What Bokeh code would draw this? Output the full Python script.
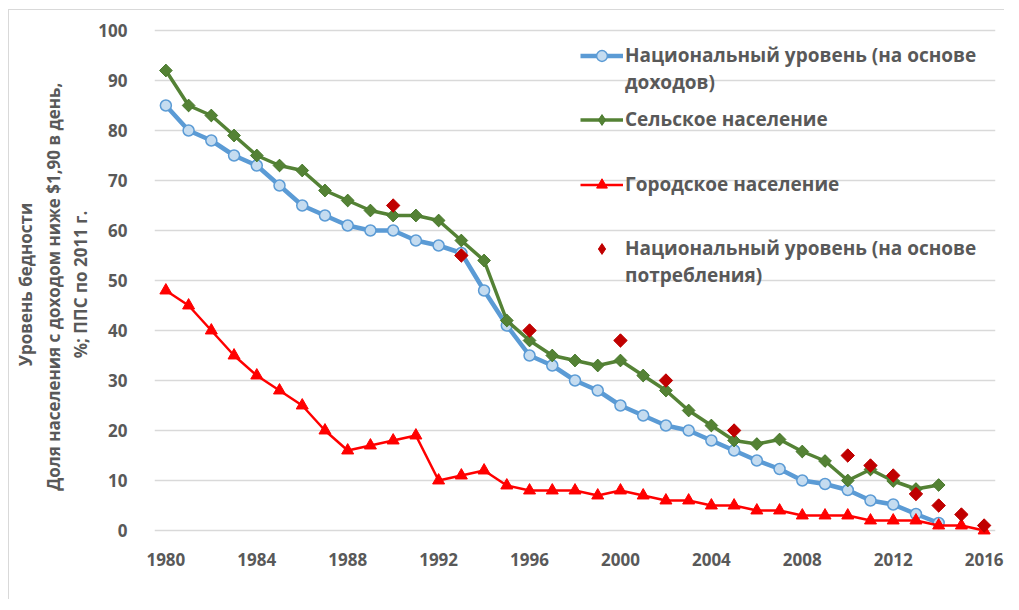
import math
from bokeh.plotting import figure
from bokeh.models import Range1d, FixedTicker, Legend, LegendItem
from bokeh.embed import file_html
from bokeh.resources import INLINE

years = list(range(1980, 2017))
years_2014 = list(range(1980, 2015))

national_income = [85, 80, 78, 75, 73, 69, 65, 63, 61, 60, 60, 58, 57, 55.5, 48, 41, 35, 33, 30,
                   28, 25, 23, 21, 20, 18, 16, 14, 12.3, 10, 9.3, 8.1, 6, 5.2, 3.3, 1.5]
rural = [92, 85, 83, 79, 75, 73, 72, 68, 66, 64, 63, 63, 62, 58, 54, 42, 38, 35, 34,
         33, 34, 31, 28, 24, 21, 18, 17.3, 18.2, 15.8, 13.9, 10, 12.2, 9.9, 8.3, 9.1]
urban = [48, 45, 40, 35, 31, 28, 25, 20, 16, 17, 18, 19, 10, 11, 12, 9, 8, 8, 8,
         7, 8, 7, 6, 6, 5, 5, 4, 4, 3, 3, 3, 2, 2, 2, 1, 1, 0]
cons_years = [1990, 1993, 1996, 2000, 2002, 2005, 2010, 2011, 2012, 2013, 2014, 2015, 2016]
national_cons = [65, 55, 40, 38, 30, 20, 15, 13, 11, 7.3, 5, 3.2, 1]

x_ticks = list(range(1980, 2017, 4))
y_ticks = list(range(0, 101, 10))

series_names = ["Национальный уровень (на основе", "доходов)", "Сельское население",
                "Городское население", "Национальный уровень (на основе", "потребления)"]
y_title = "Уровень бедности\nДоля населения с доходом ниже $1,90  в день,\n%; ППС по 2011 г."

FONT = "Open Sans"
GRAY = "#595959"
GREEN = "#548235"
DARK_RED = "#C00000"

p = figure(width=996, height=590, output_backend="svg", toolbar_location=None,
           x_range=Range1d(1979.5, 2016.5), y_range=Range1d(-2, 100.4),
           min_border_left=145, min_border_right=10, min_border_top=18, min_border_bottom=60,
           styles={"margin-left": "8px", "margin-top": "9px",
                   "border-top": "1px solid #D9D9D9", "border-left": "1px solid #D9D9D9"})
p.outline_line_color = None
p.background_fill_color = "white"
p.border_fill_color = "white"

p.xgrid.grid_line_color = None
p.ygrid.ticker = FixedTicker(ticks=y_ticks)
p.ygrid.grid_line_color = "#D9D9D9"
p.ygrid.grid_line_width = 1.3

p.xaxis.ticker = FixedTicker(ticks=x_ticks)
p.yaxis.ticker = FixedTicker(ticks=y_ticks)
for ax in (p.xaxis, p.yaxis):
    ax.axis_line_color = None
    ax.major_tick_line_color = None
    ax.minor_tick_line_color = None
    ax.major_tick_out = 0
    ax.major_tick_in = 0
    ax.major_label_text_font = FONT
    ax.major_label_text_font_style = "bold"
    ax.major_label_text_font_size = "17px"
    ax.major_label_text_color = GRAY
p.xaxis.major_label_standoff = 12
p.yaxis.major_label_standoff = 27

p.yaxis.axis_label = y_title
p.yaxis.axis_label_text_font = FONT
p.yaxis.axis_label_text_font_style = "bold"
p.yaxis.axis_label_text_font_size = "17px"
p.yaxis.axis_label_text_color = GRAY
p.yaxis.axis_label_standoff = 3

# series
blue_line = p.line(years_2014, national_income, line_color="#5B9BD5", line_width=4.5)
blue_pts = p.scatter(years_2014, national_income, marker="circle", size=11,
                     fill_color="#C5DCF0", line_color="#5B9BD5", line_width=1.5)
green_line = p.line(years_2014, rural, line_color=GREEN, line_width=3.5)
# diamond scatter (covered by the rotated squares) supplies the legend glyph
green_mk = p.scatter(years_2014, rural, marker="diamond", size=12,
                     fill_color=GREEN, line_color="#4A7A2E")
p.rect(years_2014, rural, width=9, height=9, width_units="screen",
       height_units="screen", angle=math.pi / 4,
       fill_color=GREEN, line_color="#4A7A2E", line_width=1)
red_line = p.line(years, urban, line_color="#FF0000", line_width=2.5)
red_pts = p.scatter(years, urban, marker="triangle", size=12,
                    fill_color="#FF0000", line_color="#FF0000")
cons_mk = p.scatter(cons_years, national_cons, marker="diamond", size=12,
                    fill_color=DARK_RED, line_color=DARK_RED)
p.rect(cons_years, national_cons, width=9.5, height=9.5, width_units="screen",
       height_units="screen", angle=math.pi / 4,
       fill_color=DARK_RED, line_color=DARK_RED, line_width=1)
dummy = p.scatter(x=[], y=[], size=1, fill_alpha=0, line_alpha=0)

FRAME_LEFT = 154
FRAME_BOTTOM = 540
ROW_H = 27


def add_legend(items, top_center_y):
    top = top_center_y - ROW_H / 2
    bottom = top + ROW_H * len(items)
    lg = Legend(items=items, location=(580 - FRAME_LEFT, FRAME_BOTTOM - bottom),
                padding=0, margin=0, spacing=0, label_height=ROW_H, glyph_height=ROW_H,
                glyph_width=43, label_standoff=2,
                border_line_color=None, background_fill_alpha=0,
                label_text_font=FONT, label_text_font_style="bold",
                label_text_font_size="19px", label_text_color=GRAY)
    p.add_layout(lg, "center")


add_legend([LegendItem(label=series_names[0], renderers=[blue_line, blue_pts]),
            LegendItem(label=series_names[1], renderers=[dummy])], 55)
add_legend([LegendItem(label=series_names[2], renderers=[green_line, green_mk])], 119)
add_legend([LegendItem(label=series_names[3], renderers=[red_line, red_pts])], 184)
add_legend([LegendItem(label=series_names[4], renderers=[cons_mk]),
            LegendItem(label=series_names[5], renderers=[dummy])], 248)

open("out.html", "w").write(file_html(p, INLINE))
